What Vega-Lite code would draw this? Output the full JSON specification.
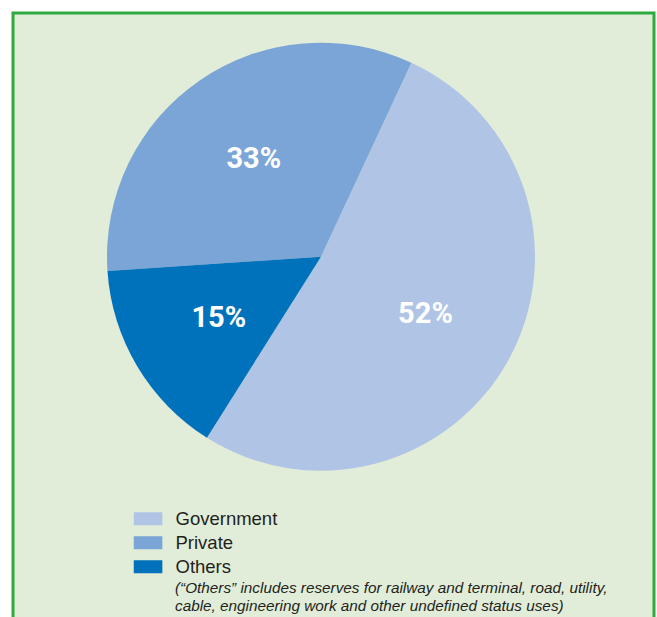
{
  "$schema": "https://vega.github.io/schema/vega-lite/v6.json",
  "width": 641,
  "height": 610,
  "autosize": {"type": "none"},
  "padding": {"left": 13, "top": 13, "right": 3, "bottom": -6},
  "background": "white",
  "view": {"fill": "#e1edd8", "stroke": "#2eaa3f", "strokeWidth": 3},
  "data": {
    "values": [
      {"category": "Government", "share": 52},
      {"category": "Private", "share": 33},
      {"category": "Others", "share": 15}
    ]
  },
  "title": {
    "text": ["(“Others” includes reserves for railway and terminal, road, utility,", "cable, engineering work and other undefined status uses)"],
    "orient": "bottom",
    "anchor": "start",
    "frame": "group",
    "offset": -42,
    "dx": 162,
    "font": "Liberation Sans",
    "fontSize": 15.3,
    "fontStyle": "italic",
    "fontWeight": "normal",
    "color": "#231f20",
    "lineHeight": 18,
    "baseline": "top"
  },
  "transform": [{"calculate": "datum.share + '%'", "as": "label"}],
  "encoding": {
    "theta": {"field": "share", "type": "quantitative", "stack": true, "scale": {"range": [0.4363, 6.7195]}},
    "order": {"field": "category", "sort": "ascending"}
  },
  "layer": [
    {
      "mark": {"type": "arc", "outerRadius": 214, "x": 308, "y": 243.7, "stroke": null},
      "encoding": {
        "color": {
          "field": "category",
          "type": "nominal",
          "scale": {"domain": ["Government", "Private", "Others"], "range": ["#b0c5e6", "#7ba5d6", "#0072bb"]},
          "legend": {
            "title": null,
            "orient": "none",
            "legendX": 125.8,
            "legendY": 496.5,
            "padding": 0,
            "symbolType": "M-2.2,-1H2.2V1H-2.2Z",
            "symbolSize": 169,
            "symbolStrokeWidth": 0,
            "symbolOpacity": 1,
            "labelFont": "Liberation Sans",
            "labelFontSize": 18.5,
            "labelColor": "#231f20",
            "labelOffset": 18.2,
            "rowPadding": 5
          }
        }
      }
    },
    {
      "mark": {"type": "text", "radius": 119, "x": 308, "y": 243.7, "font": "Roboto", "fontSize": 29, "fontWeight": "bold", "fill": "white", "baseline": "middle", "align": "center"},
      "encoding": {"text": {"field": "label", "type": "nominal"}}
    }
  ]
}
